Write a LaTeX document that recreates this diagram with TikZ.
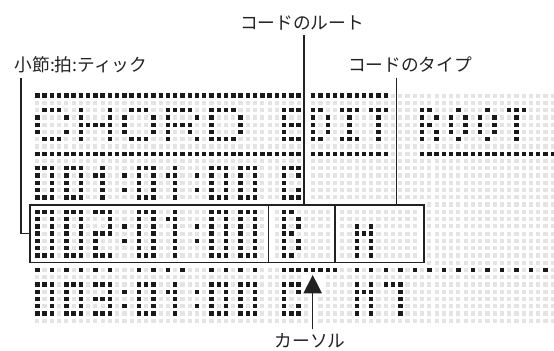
\documentclass[tikz,border=0pt]{standalone}
\usepackage{fontspec}
\usepackage{tikz}
\usetikzlibrary{arrows.meta, calc}
\newfontfamily\jpfont{Noto Sans CJK JP}
\definecolor{cDotOn}  {HTML}{1A1A1A}
\definecolor{cDotOff} {HTML}{E4E4E4}
\definecolor{cInk}    {HTML}{222222}

% one LCD row: X = lit dot, . = unlit dot, - = no dot (under a line)
\newcount\lcdcol
\newcommand\lcdrow[2]{\def\lcdrowno{#1}\lcdcol=0\relax\lcdscan#2\relax}
\def\lcdscan#1{%
  \ifx\relax#1\else
    \if X#1\fill[dot on] (\the\lcdcol*7.26+35.1, \lcdrowno*7.26+93.5) rectangle ++(4.4,4.4);\fi
    \if .#1\fill[dot off] (\the\lcdcol*7.26+35.2, \lcdrowno*7.26+93.6) rectangle ++(4.2,4.2);\fi
    \advance\lcdcol by 1\relax
    \expandafter\lcdscan
  \fi}

\begin{document}
\begin{tikzpicture}[x=0.25mm, y=-0.25mm,
    dot on/.style={fill=cDotOn},
    dot off/.style={fill=cDotOff},
    leader/.style={draw=cInk, line width=0.9pt},
    lbl/.style={font=\jpfont\fontsize{12.6}{15}\selectfont, text=cInk}]
  \useasboundingbox (0,0) rectangle (554,351);

  % display: CHORD EDIT ROOT / 001:01:00 C / 002:01:00 B m / 003:01:00 C M7
  \lcdrow{0}{XXXXXXXXXX XXXXXXXXXX XXXXXXXXXX XXXXXXX-XX XXXXXXXXX. .......... .......... ..}
  \lcdrow{1}{.......... .......... .......... .......-.. .......... .......... .......... ..}
  \lcdrow{2}{.XXX..X... X..XXX..XX XX..XXXX.. ....XXX-XX ..XXX.XXX. ...XX...X. ..X..XXX.. ..}
  \lcdrow{3}{X...X.X... X.X...X.X. ..X.X...X. ....X..-X. X..X...X.. ...X.X.X.X .X.X..X... ..}
  \lcdrow{4}{X.....XXXX X.X...X.XX XX..X...X. ....XXX-X. X..X...X.. ...XX..X.X .X.X..X... ..}
  \lcdrow{5}{X...X.X... X.X...X.X. .X..X...X. ....X..-X. X..X...X.. ...X.X.X.X .X.X..X... ..}
  \lcdrow{6}{.XXX..X... X..XXX..X. ..X.XXXX.. ....XXX-XX ..XXX..X.. ...X.X..X. ..X...X... ..}
  \lcdrow{7}{.......... .......... .......... .......-.. .......... .......... .......... ..}
  \lcdrow{8}{XXXXXXXXXX XXXXXXXXXX XXXXXXXXXX XXXXXXX-XX XXXXXXXXX. ...XXXXXXX XXXXXXXXXX XX}
  \lcdrow{9}{.......... .......... .......... .......-.. .......... .......... .......... ..}
  \lcdrow{10}{XXX.XXX..X ....XXX..X ....XXX.XX X...XXX-.. .......... .......... .......... ..}
  \lcdrow{11}{X.X.X.X.XX ..X.X.X.XX ..X.X.X.X. X...X.X-.. .......... .......... .......... ..}
  \lcdrow{12}{X.X.X.X..X ....X.X..X ....X.X.X. X...X..-.. .......... .......... .......... ..}
  \lcdrow{13}{X.X.X.X..X ..X.X.X..X ..X.X.X.X. X...X.X-.. .......... .......... .......... ..}
  \lcdrow{14}{XXX.XXX..X ....XXX..X ....XXX.XX X...XXX-.. .......... .......... .......... ..}
  \lcdrow{15}{---------- ---------- ---------- ---------- ---------- ----...... .......... ..}
  \lcdrow{16}{XXX.XXX.XX X...XXX..X ....XXX.XX X.-.XX.... .-........ ...-...... .......... ..}
  \lcdrow{17}{X.X.X.X... X...X.X.XX ....X.X.X. X.-.X.X... .-........ ...-...... .......... ..}
  \lcdrow{18}{X.X.X.X... X.X.X.X..X ..X.X.X.X. X.-.X.X... .-..X.X... ...-...... .......... ..}
  \lcdrow{19}{X.X.X.X.XX X...X.X..X ....X.X.X. X.-.XX.... .-..XXX... ...-...... .......... ..}
  \lcdrow{20}{X.X.X.X.X. ..X.X.X..X ..X.X.X.X. X.-.X.X... .-..X.X... ...-...... .......... ..}
  \lcdrow{21}{X.X.X.X.X. ....X.X..X ....X.X.X. X.-.X.X... .-..X.X... ...-...... .......... ..}
  \lcdrow{22}{XXX.XXX.XX X...XXX..X ....XXX.XX X.-.XX.... .-..X.X... ...-...... .......... ..}
  \lcdrow{23}{---------- ---------- ---------- ---------- ---------- ----...... .......... ..}
  \lcdrow{24}{X.X.X.X.X. X...X.X.X. X...X.X.X. X...XXXXXX XX..X.X.X. X.X.X.X.X. X.X.X.X.X. X.}
  \lcdrow{25}{.......... .......... .......... .......--- .......... .......... .......... ..}
  \lcdrow{26}{XXX.XXX.XX X...XXX..X ....XXX.XX X...XXX--- ....X.X.XX X......... .......... ..}
  \lcdrow{27}{X.X.X.X... X.X.X.X.XX ..X.X.X.X. X...X.X--- ....XXX... X......... .......... ..}
  \lcdrow{28}{X.X.X.X.XX X...X.X..X ....X.X.X. X...X...-. ....X.X... X......... .......... ..}
  \lcdrow{29}{X.X.X.X... X.X.X.X..X ..X.X.X.X. X...X.X.-. ....X.X... X......... .......... ..}
  \lcdrow{30}{XXX.XXX.XX X...XXX..X ....XXX.XX X...XXX.-. ....X.X... X......... .......... ..}
  \lcdrow{31}{.......... .......... .......... ........-. .......... .......... .......... ..}

  % cursor line frame
  \draw[leader] (30,205) rectangle (424,262.3);
  \draw[leader] (268.3,205) -- (268.3,262.3);
  \draw[leader] (335,205) -- (335,262.3);

  % labels
  \node[lbl] (lblRoot)   at (302,23)  {コードのルート};
  \node[lbl] (lblTick)   at (81,65)   {小節:拍:ティック};
  \node[lbl] (lblType)   at (410,65)  {コードのタイプ};
  \node[lbl] (lblCursor) at (310,341) {カーソル};

  \coordinate (rootEnd)   at (304,205);
  \coordinate (typeEnd)   at (396.7,205);
  \coordinate (tickBend)  at (21,233.5);
  \coordinate (tickEnd)   at (30,233.5);
  \coordinate (cursorTip) at (312.7,275);

  \draw[leader] (rootEnd |- lblRoot.south) -- (rootEnd);
  \draw[leader] (typeEnd |- lblType.south) -- (typeEnd);
  \draw[leader] (tickBend |- lblTick.south) -- (tickBend) -- (tickEnd);
  \draw[leader, -{Triangle[length=4.6mm, width=4.6mm]}]
    (cursorTip |- lblCursor.north) -- (cursorTip);
\end{tikzpicture}
\end{document}
